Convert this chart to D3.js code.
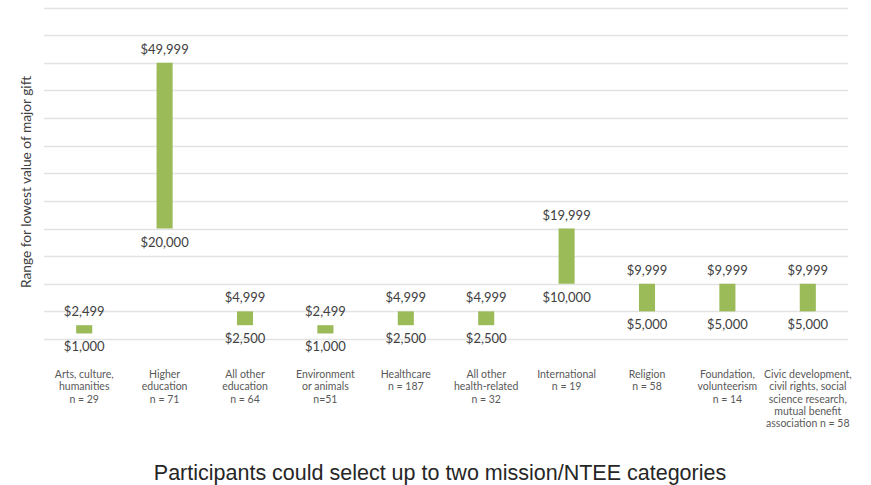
<!DOCTYPE html>
<html>
<head>
<meta charset="utf-8">
<script src="https://cdn.jsdelivr.net/npm/d3@7"></script>
<style>
  html, body { margin: 0; padding: 0; background: #fff; }
  svg { display: block; }
</style>
</head>
<body>
<svg id="chart" width="871" height="485"></svg>
<script>
// Mission categories (each entry is a list of label lines)
const categories = [
  ["Arts, culture,", "humanities", "n = 29"],
  ["Higher", "education", "n = 71"],
  ["All other", "education", "n = 64"],
  ["Environment", "or animals", "n=51"],
  ["Healthcare", "n = 187"],
  ["All other", "health-related", "n = 32"],
  ["International", "n = 19"],
  ["Religion", "n = 58"],
  ["Foundation,", "volunteerism", "n = 14"],
  ["Civic development,", "civil rights, social", "science research,", "mutual benefit", "association n = 58"]
];

// Range for lowest value of major gift: lower and upper bound per category
const lowValues  = [1000, 20000, 2500, 1000, 2500, 2500, 10000, 5000, 5000, 5000];
const highValues = [2499, 49999, 4999, 2499, 4999, 4999, 19999, 9999, 9999, 9999];

// Gridline values
const yTicks = [0, 5000, 10000, 15000, 20000, 25000, 30000, 35000, 40000, 45000, 50000, 55000, 60000];

const svg = d3.select("#chart");
const margin = { left: 44, right: 23, top: 7.5 };
const width = 871;
const plotBottom = 339;

const x = d3.scaleBand()
  .domain(d3.range(categories.length))
  .range([margin.left, width - margin.right])
  .paddingInner(0.8)
  .paddingOuter(0.4);

const y = d3.scaleLinear()
  .domain([0, 60000])
  .range([plotBottom, margin.top]);

const fmt = v => "$" + d3.format(",")(v);
const labelFont = "Lato, 'Open Sans', sans-serif";

// Horizontal gridlines
svg.append("g")
  .attr("class", "grid")
  .selectAll("line")
  .data(yTicks)
  .join("line")
  .attr("x1", margin.left)
  .attr("x2", width - margin.right)
  .attr("y1", d => Math.round(y(d)) + 0.5)
  .attr("y2", d => Math.round(y(d)) + 0.5)
  .attr("stroke", "#e3e3e3")
  .attr("stroke-width", 1.5);

const data = categories.map((c, i) => ({ lines: c, lo: lowValues[i], hi: highValues[i], i }));

// Floating range bars
svg.append("g")
  .selectAll("rect")
  .data(data)
  .join("rect")
  .attr("x", d => x(d.i))
  .attr("width", x.bandwidth())
  .attr("y", d => y(d.hi))
  .attr("height", d => y(d.lo) - y(d.hi))
  .attr("fill", "#9bbb59");

// Upper bound labels
svg.append("g")
  .selectAll("text")
  .data(data)
  .join("text")
  .attr("x", d => x(d.i) + x.bandwidth() / 2)
  .attr("y", d => y(d.hi) - 9)
  .attr("text-anchor", "middle")
  .attr("font-family", labelFont)
  .attr("font-size", 13)
  .attr("fill", "#404040")
  .text(d => fmt(d.hi));

// Lower bound labels
svg.append("g")
  .selectAll("text")
  .data(data)
  .join("text")
  .attr("x", d => x(d.i) + x.bandwidth() / 2)
  .attr("y", d => y(d.lo) + 18)
  .attr("text-anchor", "middle")
  .attr("font-family", labelFont)
  .attr("font-size", 13)
  .attr("fill", "#404040")
  .text(d => fmt(d.lo));

// Category labels along the bottom
svg.append("g")
  .selectAll("text")
  .data(data)
  .join("text")
  .attr("text-anchor", "middle")
  .attr("font-family", labelFont)
  .attr("font-size", 10.5)
  .attr("fill", "#595959")
  .each(function(d) {
    const t = d3.select(this);
    d.lines.forEach((line, k) => {
      t.append("tspan")
        .attr("x", x(d.i) + x.bandwidth() / 2)
        .attr("y", 378 + k * 12.3)
        .text(line);
    });
  });

// Y axis title
svg.append("text")
  .attr("transform", "translate(31, 182) rotate(-90)")
  .attr("text-anchor", "middle")
  .attr("font-family", labelFont)
  .attr("font-size", 13.7)
  .attr("fill", "#404040")
  .text("Range for lowest value of major gift");

// Chart footer title
svg.append("text")
  .attr("x", 440)
  .attr("y", 480)
  .attr("text-anchor", "middle")
  .attr("font-family", "'Liberation Sans', Arial, sans-serif")
  .attr("font-size", 21.5)
  .attr("fill", "#262626")
  .text("Participants could select up to two mission/NTEE categories");
</script>
</body>
</html>
